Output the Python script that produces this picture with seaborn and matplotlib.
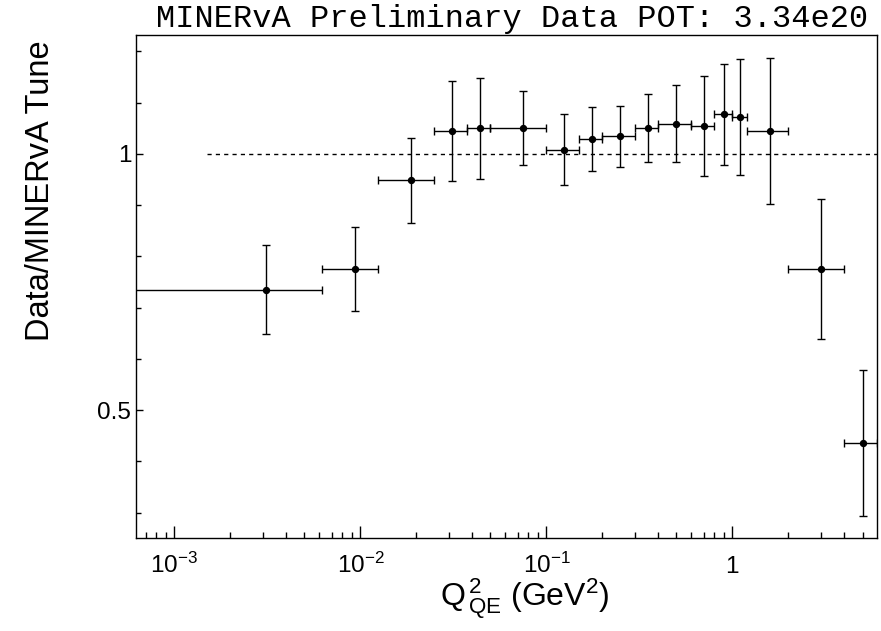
import numpy as np
import pandas as pd
import matplotlib
matplotlib.use("Agg")
import matplotlib.pyplot as plt
import seaborn as sns
from matplotlib.ticker import FixedLocator, LogLocator, NullFormatter, MultipleLocator

# ---------------- data ----------------
bin_edges = [0.0, 0.00625, 0.0125, 0.025, 0.0375, 0.05, 0.1, 0.15, 0.2,
             0.3, 0.4, 0.6, 0.8, 1.0, 1.2, 2.0, 4.0, 6.0]
ratio = [0.735, 0.775, 0.949, 1.045, 1.050, 1.050, 1.008, 1.029, 1.034,
         1.050, 1.059, 1.054, 1.077, 1.072, 1.045, 0.775, 0.436]
ratio_err = [0.087, 0.082, 0.083, 0.098, 0.099, 0.072, 0.069, 0.062, 0.059,
             0.066, 0.075, 0.098, 0.098, 0.113, 0.142, 0.137, 0.143]
ref_line_start = 0.0015
ref_line_value = 1.0
x_tick_vals = [1e-3, 1e-2, 1e-1, 1.0]
x_tick_labels = [r"$10^{-3}$", r"$10^{-2}$", r"$10^{-1}$", r"$1$"]
y_tick_vals = [0.5, 1.0]
y_tick_labels = ["0.5", "1"]
title_text = "MINERvA Preliminary Data POT: 3.34e20"
x_label = r"$Q^{\,2}_{\,QE}$ (GeV$^{2}$)"
y_label = "Data/MINERvA Tune"
x_limits = (6.18e-4, 5.945)
y_limits = (0.25, 1.232)

edges = np.array(bin_edges)
df = pd.DataFrame({
    "q2": (edges[:-1] + edges[1:]) / 2.0,
    "ratio": ratio,
    "yerr": ratio_err,
})
df["xlo"] = df["q2"] - edges[:-1]
df["xhi"] = edges[1:] - df["q2"]

# ---------------- style ----------------
sns.set_theme(style="white")
plt.rcParams["font.family"] = ["Liberation Sans", "DejaVu Sans"]
plt.rcParams["mathtext.fontset"] = "custom"
plt.rcParams["mathtext.rm"] = "Liberation Sans"
plt.rcParams["mathtext.it"] = "Liberation Sans"
plt.rcParams["mathtext.bf"] = "Liberation Sans:bold"
plt.rcParams["mathtext.default"] = "regular"

fig = plt.figure(figsize=(8.81, 6.31), dpi=100)
ax = fig.add_axes([135.5 / 881, 1 - 538.3 / 631, (876.5 - 135.5) / 881, (538.3 - 35.0) / 631])
ax.set_facecolor("white")

ax.set_xscale("log")
ax.set_xlim(*x_limits)
ax.set_ylim(*y_limits)

# reference line
ax.plot([ref_line_start, x_limits[1]], [ref_line_value, ref_line_value],
        color="black", lw=1.0, dashes=(3, 3), zorder=1)

# error bars
ax.errorbar(df["q2"], df["ratio"], yerr=df["yerr"],
            xerr=[df["xlo"], df["xhi"]], fmt="none", ecolor="black",
            elinewidth=1.0, capsize=2.8, capthick=1.0, zorder=2)

# points
sns.scatterplot(data=df, x="q2", y="ratio", ax=ax, color="black",
                s=28, edgecolor="black", linewidth=0, zorder=3, legend=False)

# ticks
ax.xaxis.set_major_locator(FixedLocator(x_tick_vals))
ax.set_xticklabels(x_tick_labels)
ax.xaxis.set_minor_locator(LogLocator(base=10, subs=np.arange(2, 10)))
ax.xaxis.set_minor_formatter(NullFormatter())
ax.yaxis.set_major_locator(FixedLocator(y_tick_vals))
ax.set_yticklabels(y_tick_labels)
ax.yaxis.set_minor_locator(MultipleLocator(0.1))

ax.tick_params(axis="both", which="both", direction="in", top=False, right=False,
               bottom=True, left=True, color="black", width=1.0, labelcolor="black")
ax.tick_params(axis="x", which="major", length=8.6, labelsize=17.5, pad=25.0)
ax.tick_params(axis="x", which="minor", length=4.3)
ax.tick_params(axis="y", which="major", length=5.2, labelsize=17.5, pad=3)
ax.tick_params(axis="y", which="minor", length=3.3)

for lab in ax.get_xticklabels():
    lab.set_verticalalignment("baseline")

for sp in ax.spines.values():
    sp.set_visible(True)
    sp.set_color("black")
    sp.set_linewidth(1.0)

ax.set_xlabel(x_label, fontsize=23, color="black", va="baseline")
ax.xaxis.set_label_coords(0.525, -(607 - 538.3) / (538.3 - 35.0))
ax.set_ylabel(y_label, fontsize=23.5, color="black", ha="right", va="center")
ax.yaxis.set_label_coords((41 - 135.5) / (876.5 - 135.5), 0.99)

fig.text(156.5 / 881, 1 - 27.5 / 631, title_text, family=["Liberation Mono", "DejaVu Sans Mono"],
         fontsize=23, ha="left", va="baseline", color="black")

fig.savefig("out.png", dpi=100, facecolor="white")
